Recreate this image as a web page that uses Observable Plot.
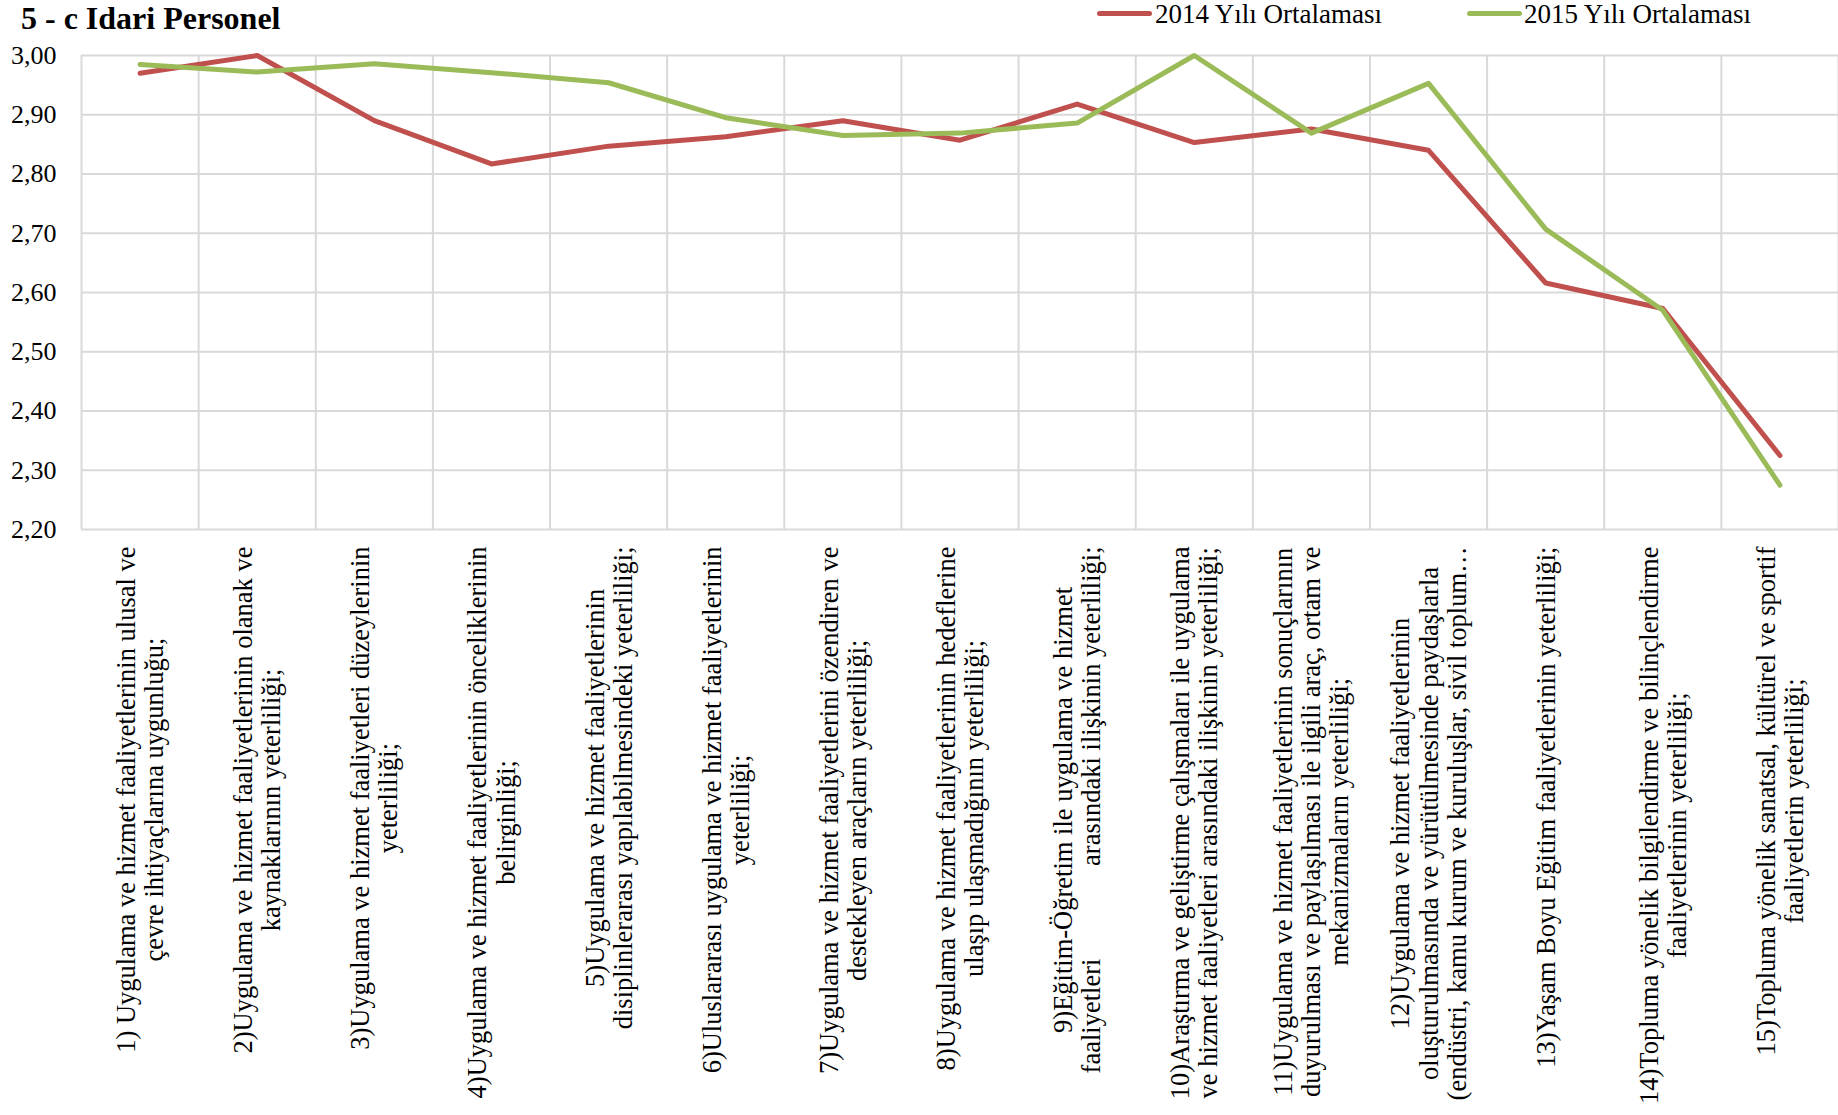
<!DOCTYPE html>
<html>
<head>
<meta charset="utf-8">
<script src="https://cdn.jsdelivr.net/npm/d3@7"></script>
<script src="https://cdn.jsdelivr.net/npm/@observablehq/plot@0.6"></script>
<style>
  html, body { margin: 0; padding: 0; background: #fff; }
  body { font-family: "Liberation Serif", "Times New Roman", serif; color: #000; }
  #wrap { position: relative; width: 1838px; height: 1115px; overflow: hidden; }
  #header { position: relative; width: 1838px; height: 40px; }
  #title { position: absolute; left: 21px; top: 2px; font-size: 32px; line-height: 32px; font-weight: bold; white-space: nowrap; }
  .legline { position: absolute; height: 5px; border-radius: 3px; }
  .legtext { position: absolute; top: 1px; font-size: 27px; line-height: 27px; white-space: nowrap; }
  svg text { font-family: "Liberation Serif", "Times New Roman", serif; }
</style>
</head>
<body>
<div id="wrap">
  <div id="header">
    <div id="title"></div>
    <div id="legend"></div>
  </div>
  <div id="chart"></div>
</div>
<script>
const title = "5 - c Idari Personel";
const seriesNames = ["2014 Yılı Ortalaması", "2015 Yılı Ortalaması"];
const seriesColors = ["#C0504D", "#9BBB59"];

const categories = [
  "1) Uygulama ve hizmet faaliyetlerinin ulusal ve\nçevre ihtiyaçlarına uygunluğu;",
  "2)Uygulama ve hizmet faaliyetlerinin olanak ve\nkaynaklarının yeterliliği;",
  "3)Uygulama ve hizmet faaliyetleri düzeylerinin\nyeterliliği;",
  "4)Uygulama ve hizmet faaliyetlerinin önceliklerinin\nbelirginliği;",
  "5)Uygulama ve hizmet faaliyetlerinin\ndisiplinlerarası yapılabilmesindeki yeterliliği;",
  "6)Uluslararası uygulama ve hizmet faaliyetlerinin\nyeterliliği;",
  "7)Uygulama ve hizmet faaliyetlerini özendiren ve\ndestekleyen araçların yeterliliği;",
  "8)Uygulama ve hizmet faaliyetlerinin hedeflerine\nulaşıp ulaşmadığının yeterliliği;",
  "9)Eğitim-Öğretim ile uygulama ve hizmet\nfaaliyetleri\u00A0\u00A0\u00A0\u00A0\u00A0\u00A0\u00A0\u00A0\u00A0\u00A0\u00A0\u00A0\u00A0\u00A0arasındaki ilişkinin yeterliliği;",
  "10)Araştırma ve geliştirme çalışmaları ile uygulama\nve hizmet faaliyetleri arasındaki ilişkinin yeterliliği;",
  "11)Uygulama ve hizmet faaliyetlerinin sonuçlarının\nduyurulması ve paylaşılması ile ilgili araç, ortam ve\nmekanizmaların yeterliliği;",
  "12)Uygulama ve hizmet faaliyetlerinin\noluşturulmasında ve yürütülmesinde paydaşlarla\n(endüstri, kamu kurum ve kuruluşlar, sivil toplum…",
  "13)Yaşam Boyu Eğitim faaliyetlerinin yeterliliği;",
  "14)Topluma yönelik bilgilendirme ve bilinçlendirme\nfaaliyetlerinin yeterliliği;",
  "15)Topluma yönelik sanatsal, kültürel ve sportif\nfaaliyetlerin yeterliliği;"
];

const values2014 = [2.970, 3.000, 2.890, 2.817, 2.847, 2.863, 2.890, 2.857, 2.918, 2.853, 2.876, 2.840, 2.616, 2.573, 2.325];
const values2015 = [2.985, 2.972, 2.986, 2.971, 2.954, 2.895, 2.865, 2.869, 2.886, 3.000, 2.869, 2.953, 2.707, 2.570, 2.275];

const yTicks = [2.2, 2.3, 2.4, 2.5, 2.6, 2.7, 2.8, 2.9, 3.0];

// header: title + legend
document.getElementById("title").textContent = title;
const legend = document.getElementById("legend");
const legendPos = [{line: 1097, text: 1155}, {line: 1467, text: 1524}];
seriesNames.forEach((name, k) => {
  const ln = document.createElement("div");
  ln.className = "legline";
  ln.style.left = legendPos[k].line + "px";
  ln.style.width = "55px";
  ln.style.top = "11px";
  ln.style.background = seriesColors[k];
  legend.appendChild(ln);
  const tx = document.createElement("div");
  tx.className = "legtext";
  tx.style.left = legendPos[k].text + "px";
  tx.textContent = name;
  legend.appendChild(tx);
});

const rows = [];
categories.forEach((c, i) => {
  rows.push({pos: i + 0.5, series: seriesNames[0], value: values2014[i]});
  rows.push({pos: i + 0.5, series: seriesNames[1], value: values2015[i]});
});
const labelRows = categories.map((c, i) => ({pos: i + 0.5, label: c}));
const bounds = d3.range(categories.length + 1);

const fontFam = '"Liberation Serif", "Times New Roman", serif';

const chart = Plot.plot({
  width: 1838,
  height: 1075,
  marginTop: 15,
  marginLeft: 81,
  marginRight: 0,
  marginBottom: 586,
  style: {fontFamily: fontFam, color: "#000", background: "#fff", overflow: "visible"},
  x: {type: "linear", domain: [0, categories.length], axis: null},
  y: {domain: [2.2, 3.0], axis: null},
  color: {domain: seriesNames, range: seriesColors},
  marks: [
    Plot.ruleY(yTicks, {y: d => d, stroke: "#D9D9D9", strokeWidth: 2}),
    Plot.ruleX(bounds, {x: d => d, stroke: "#D9D9D9", strokeWidth: 2}),
    Plot.axisY(yTicks, {
      tickSize: 0, tickPadding: 25, fontSize: 26, fontFamily: fontFam, label: null,
      tickFormat: d => d.toFixed(2).replace(".", ",")
    }),
    Plot.line(rows.filter(d => d.series === seriesNames[0]), {
      x: "pos", y: "value", stroke: "series", strokeWidth: 5,
      strokeLinecap: "round", strokeLinejoin: "round"
    }),
    Plot.line(rows.filter(d => d.series === seriesNames[1]), {
      x: "pos", y: "value", stroke: "series", strokeWidth: 5,
      strokeLinecap: "round", strokeLinejoin: "round"
    }),
    Plot.text(labelRows, {
      x: "pos", text: "label", frameAnchor: "bottom", dy: 17,
      rotate: -90, textAnchor: "end", lineAnchor: "middle",
      lineHeight: 1.06, fontSize: 26.5, fontFamily: fontFam, fill: "#000"
    })
  ]
});
document.getElementById("chart").appendChild(chart);

// center the lines of each multi-line category label relative to each other
chart.querySelectorAll('g[aria-label="text"] text').forEach(t => {
  const spans = t.querySelectorAll("tspan");
  if (spans.length < 2) return;
  let maxW = 0;
  spans.forEach(s => { maxW = Math.max(maxW, s.getComputedTextLength()); });
  t.setAttribute("text-anchor", "middle");
  spans.forEach(s => s.setAttribute("x", -maxW / 2));
});
</script>
</body>
</html>
